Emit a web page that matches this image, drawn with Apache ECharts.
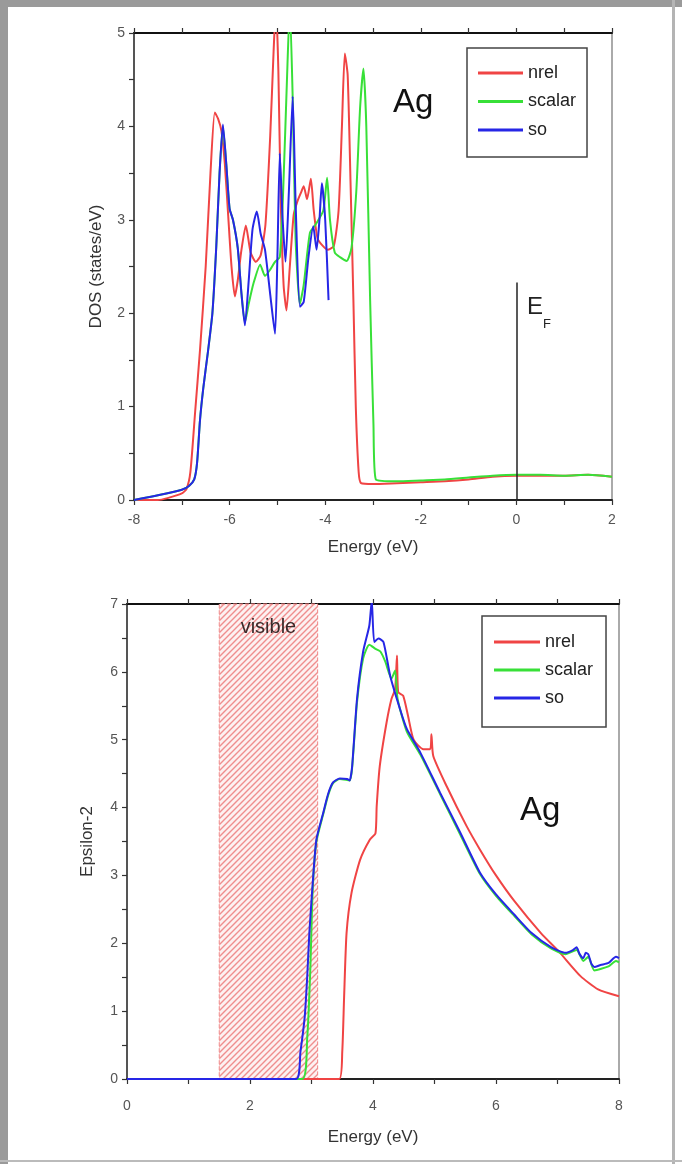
<!DOCTYPE html>
<html>
<head>
<meta charset="utf-8">
<script src="https://cdn.jsdelivr.net/npm/echarts@6.0.0/dist/echarts.min.js"></script>
<style>
  html, body { margin: 0; padding: 0; background: #fff; }
  #frame { position: absolute; left: 0; top: 0; width: 682px; height: 1164px; }
  .bar { position: absolute; background: #9a9a9a; }
  #main { position: absolute; left: 0; top: 0; width: 682px; height: 1164px; }
</style>
</head>
<body>
<div id="frame">
  <div class="bar" style="left:0;top:0;width:682px;height:7px"></div>
  <div class="bar" style="left:0;top:0;width:8px;height:1164px"></div>
  <div class="bar" style="left:672px;top:0;width:3px;height:1164px;background:#b4b4b4"></div>
  <div class="bar" style="left:0;top:1160px;width:682px;height:2px;background:#bbb"></div>
</div>
<div id="main"></div>
<script>
// density of states, [energy eV, states/eV]
var dosNrel = [[-8,0],[-7.5,0],[-7.3,0.02],[-7.0,0.07],[-6.9,0.12],[-6.82,0.3],[-6.72,0.95],[-6.62,1.6],[-6.5,2.5],[-6.4,3.5],[-6.31,4.15],[-6.24,4.08],[-6.17,3.95],[-6.1,3.6],[-6.03,3.05],[-5.96,2.5],[-5.89,2.18],[-5.83,2.35],[-5.76,2.65],[-5.66,2.94],[-5.56,2.65],[-5.45,2.55],[-5.35,2.62],[-5.25,2.95],[-5.15,3.9],[-5.08,4.8],[-5.03,5.3],[-4.98,4.6],[-4.93,3.2],[-4.87,2.3],[-4.81,2.03],[-4.74,2.5],[-4.66,3.05],[-4.58,3.2],[-4.5,3.3],[-4.45,3.36],[-4.38,3.22],[-4.3,3.44],[-4.24,3.1],[-4.16,2.8],[-4.05,2.72],[-3.95,2.68],[-3.82,2.72],[-3.72,3.1],[-3.65,4.0],[-3.59,4.78],[-3.53,4.55],[-3.47,3.4],[-3.41,2.14],[-3.36,1.0],[-3.3,0.3],[-3.25,0.18],[-3.0,0.17],[-2.5,0.18],[-2.0,0.19],[-1.5,0.2],[-1.0,0.22],[-0.5,0.25],[0,0.26],[0.5,0.26],[1.0,0.26],[1.5,0.27],[2,0.25]];
var dosScalar = [[-8,0],[-7.5,0.05],[-7.0,0.11],[-6.85,0.15],[-6.74,0.22],[-6.68,0.4],[-6.62,0.85],[-6.55,1.2],[-6.45,1.6],[-6.36,2.0],[-6.28,2.7],[-6.21,3.5],[-6.14,4.0],[-6.07,3.6],[-6.0,3.12],[-5.93,3.0],[-5.83,2.7],[-5.75,2.2],[-5.68,1.9],[-5.6,2.1],[-5.5,2.32],[-5.36,2.52],[-5.26,2.4],[-5.16,2.46],[-5.05,2.55],[-4.95,2.6],[-4.88,3.3],[-4.8,4.5],[-4.74,5.3],[-4.68,4.3],[-4.62,2.8],[-4.53,2.1],[-4.45,2.3],[-4.32,2.86],[-4.2,2.95],[-4.04,3.1],[-3.96,3.45],[-3.9,3.0],[-3.8,2.65],[-3.69,2.6],[-3.55,2.56],[-3.45,2.7],[-3.35,3.3],[-3.27,4.2],[-3.2,4.62],[-3.14,4.0],[-3.06,2.14],[-2.99,0.8],[-2.94,0.22],[-2.5,0.2],[-2.0,0.21],[-1.5,0.22],[-1.0,0.24],[-0.5,0.26],[0,0.27],[0.5,0.27],[1.0,0.26],[1.5,0.27],[2,0.25]];
var dosSo = [[-8,0],[-7.5,0.05],[-7.0,0.11],[-6.85,0.15],[-6.74,0.22],[-6.68,0.4],[-6.62,0.85],[-6.55,1.2],[-6.45,1.6],[-6.36,2.0],[-6.28,2.7],[-6.21,3.5],[-6.14,4.02],[-6.07,3.6],[-6.0,3.12],[-5.93,3.0],[-5.83,2.7],[-5.75,2.2],[-5.68,1.87],[-5.6,2.35],[-5.52,2.9],[-5.43,3.09],[-5.35,2.85],[-5.26,2.68],[-5.15,2.2],[-5.05,1.78],[-5.0,2.6],[-4.95,3.71],[-4.89,3.0],[-4.83,2.55],[-4.76,3.3],[-4.68,4.32],[-4.62,3.2],[-4.53,2.07],[-4.45,2.12],[-4.35,2.6],[-4.25,2.93],[-4.18,2.68],[-4.12,3.0],[-4.07,3.39],[-4.0,3.0],[-3.93,2.14]];

// imaginary part of the dielectric function, [energy eV, eps2]
var epsNrel = [[0,0],[3.45,0],[3.5,0.4],[3.53,1.2],[3.57,2.15],[3.65,2.74],[3.79,3.23],[3.95,3.53],[4.04,3.62],[4.06,4.02],[4.11,4.61],[4.22,5.25],[4.3,5.6],[4.36,5.75],[4.39,6.24],[4.41,5.7],[4.49,5.65],[4.57,5.35],[4.66,5.0],[4.82,4.86],[4.93,4.86],[4.95,5.08],[4.98,4.76],[5.2,4.31],[5.52,3.73],[5.74,3.38],[6.0,3.0],[6.3,2.62],[6.73,2.15],[7.02,1.88],[7.37,1.52],[7.66,1.32],[8,1.22]];
var epsScalar = [[0,0],[2.85,0],[2.93,0.6],[2.98,1.6],[3.02,2.8],[3.08,3.5],[3.19,3.9],[3.27,4.18],[3.35,4.36],[3.46,4.42],[3.62,4.4],[3.66,4.58],[3.74,5.55],[3.84,6.2],[3.94,6.4],[4.04,6.34],[4.12,6.3],[4.2,6.15],[4.3,5.9],[4.36,6.02],[4.4,5.6],[4.55,5.12],[4.77,4.78],[5.09,4.2],[5.42,3.6],[5.74,3.02],[6.0,2.7],[6.3,2.4],[6.58,2.13],[6.9,1.92],[7.13,1.84],[7.31,1.9],[7.42,1.74],[7.5,1.8],[7.6,1.6],[7.83,1.66],[7.95,1.74],[8,1.72]];
var epsSo = [[0,0],[2.75,0],[2.82,0.4],[2.89,0.92],[2.93,1.5],[2.965,2.15],[3.02,2.89],[3.08,3.53],[3.19,3.92],[3.27,4.2],[3.35,4.37],[3.46,4.43],[3.58,4.42],[3.62,4.4],[3.66,4.6],[3.74,5.6],[3.84,6.3],[3.94,6.68],[3.98,7.05],[4.02,6.44],[4.09,6.49],[4.17,6.44],[4.28,5.94],[4.44,5.45],[4.55,5.16],[4.77,4.81],[5.09,4.22],[5.42,3.63],[5.74,3.04],[6.0,2.72],[6.3,2.42],[6.58,2.15],[6.9,1.94],[7.13,1.86],[7.25,1.9],[7.31,1.94],[7.36,1.84],[7.42,1.78],[7.46,1.86],[7.5,1.84],[7.55,1.7],[7.6,1.65],[7.7,1.68],[7.83,1.71],[7.95,1.8],[8,1.78]];

var seriesNames = ['nrel', 'scalar', 'so'];
var colors = ['#f04444', '#38e038', '#2626e6'];
var fermiLine = [[0, 0], [0, 2.33]];
var visibleRange = [1.5, 3.1];

var FONT = 'Liberation Sans';

// hatch pattern for the visible range
var pc = document.createElement('canvas');
pc.width = 6; pc.height = 6;
var ctx = pc.getContext('2d');
ctx.fillStyle = '#fdf1f1';
ctx.fillRect(0, 0, 6, 6);
ctx.strokeStyle = '#ef8e8e';
ctx.lineWidth = 1.4;
ctx.beginPath();
ctx.moveTo(0, 6); ctx.lineTo(6, 0);
ctx.moveTo(-1, 1); ctx.lineTo(1, -1);
ctx.moveTo(5, 7); ctx.lineTo(7, 5);
ctx.stroke();

function xAxisCfg(grid, min, max, top, extra) {
  var a = {
    gridIndex: grid, type: 'value', min: min, max: max, interval: 2,
    position: top ? 'top' : 'bottom',
    axisLine: { onZero: false, lineStyle: { color: top ? '#111' : '#222', width: 2 } },
    axisTick: { show: true, length: 5, lineStyle: { color: '#333', width: 1.2 } },
    minorTick: { show: true, splitNumber: 2, length: 5, lineStyle: { color: '#333', width: 1.2 } },
    splitLine: { show: false },
    axisLabel: { show: !top, fontSize: 14, color: '#555', fontFamily: FONT }
  };
  return Object.assign(a, extra || {});
}
function yAxisCfg(grid, max, right, extra) {
  var a = {
    gridIndex: grid, type: 'value', min: 0, max: max, interval: 1,
    position: right ? 'right' : 'left',
    axisLine: { show: true, onZero: false, lineStyle: { color: right ? '#aaa' : '#555', width: 2 } },
    axisTick: { show: !right, length: 5, lineStyle: { color: '#333', width: 1.2 } },
    minorTick: { show: !right, splitNumber: 2, length: 5, lineStyle: { color: '#333', width: 1.2 } },
    splitLine: { show: false },
    axisLabel: { show: !right, fontSize: 14, color: '#555', fontFamily: FONT, margin: 9 }
  };
  return Object.assign(a, extra || {});
}

function lineSeries(i, data, xi, yi, extra) {
  var s = {
    name: seriesNames[i], type: 'line', data: data,
    xAxisIndex: xi, yAxisIndex: yi,
    showSymbol: false, symbol: 'none', smooth: 0.2,
    lineStyle: { color: colors[i], width: 2 },
    itemStyle: { color: colors[i] },
    z: 2 + i
  };
  return Object.assign(s, extra || {});
}

var legendCommon = {
  orient: 'vertical', icon: 'rect', itemHeight: 3,
  borderColor: '#444', borderWidth: 1.5,
  textStyle: { fontSize: 18, color: '#222', fontFamily: FONT },
  data: seriesNames
};
var axisNameStyle = { fontSize: 17, color: '#333', fontFamily: FONT };

var chart = echarts.init(document.getElementById('main'), null, { renderer: 'canvas' });
var option = {
  animation: false,
  backgroundColor: 'transparent',
  grid: [
    { left: 134, right: 70, top: 33, bottom: 664 },
    { left: 127, right: 63, top: 604, bottom: 85 }
  ],
  legend: [
    Object.assign({}, legendCommon, { left: 467, top: 48, itemWidth: 45, itemGap: 10.5, padding: [16, 11, 18, 11] }),
    Object.assign({}, legendCommon, { left: 482, top: 616, itemWidth: 46, itemGap: 10, padding: [17, 13, 20, 12] })
  ],
  xAxis: [
    xAxisCfg(0, -8, 2, false, {
      name: 'Energy (eV)', nameLocation: 'middle', nameGap: 39,
      axisLabel: { fontSize: 14, color: '#555', fontFamily: FONT, margin: 13 },
      nameTextStyle: axisNameStyle
    }),
    xAxisCfg(0, -8, 2, true),
    xAxisCfg(1, 0, 8, false, {
      name: 'Energy (eV)', nameLocation: 'middle', nameGap: 50,
      axisLabel: { fontSize: 14, color: '#555', fontFamily: FONT, margin: 20 },
      nameTextStyle: axisNameStyle
    }),
    xAxisCfg(1, 0, 8, true)
  ],
  yAxis: [
    yAxisCfg(0, 5, false, {
      name: 'DOS (states/eV)', nameLocation: 'middle', nameGap: 29,
      nameTextStyle: axisNameStyle
    }),
    yAxisCfg(0, 5, true),
    yAxisCfg(1, 7, false, {
      name: 'Epsilon-2', nameLocation: 'middle', nameGap: 31,
      nameTextStyle: axisNameStyle
    }),
    yAxisCfg(1, 7, true)
  ],
  series: [
    lineSeries(0, dosNrel, 0, 0, {
      markLine: {
        silent: true, symbol: ['none', 'none'], label: { show: false },
        lineStyle: { color: '#222', width: 1.5, type: 'solid' },
        data: [[{ coord: fermiLine[0] }, { coord: fermiLine[1] }]]
      }
    }),
    lineSeries(1, dosScalar, 0, 0),
    lineSeries(2, dosSo, 0, 0),
    lineSeries(0, epsNrel, 2, 2, {
      markArea: {
        silent: true,
        itemStyle: {
          color: { image: pc, repeat: 'repeat' }, opacity: 1,
          borderColor: '#f08585', borderWidth: 1, borderType: 'dashed'
        },
        label: {
          show: true, position: 'insideTop', distance: 14,
          formatter: 'visible', fontSize: 20, color: '#3a2a2a', fontFamily: FONT
        },
        data: [[{ xAxis: visibleRange[0], yAxis: 0 }, { xAxis: visibleRange[1], yAxis: 7 }]]
      }
    }),
    lineSeries(1, epsScalar, 2, 2),
    lineSeries(2, epsSo, 2, 2)
  ],
  graphic: [
    { type: 'text', left: 393, top: 86, style: { text: 'Ag', fontSize: 33, fontFamily: FONT, fill: '#111' } },
    { type: 'text', left: 520, top: 794, style: { text: 'Ag', fontSize: 33, fontFamily: FONT, fill: '#111' } },
    { type: 'text', left: 527, top: 295, style: { text: 'E', fontSize: 24, fontFamily: FONT, fill: '#222' } },
    { type: 'text', left: 543, top: 318, style: { text: 'F', fontSize: 13, fontFamily: FONT, fill: '#222' } }
  ]
};
chart.setOption(option);
window.addEventListener('resize', function () {
  chart.resize();
});
</script>
</body>
</html>
